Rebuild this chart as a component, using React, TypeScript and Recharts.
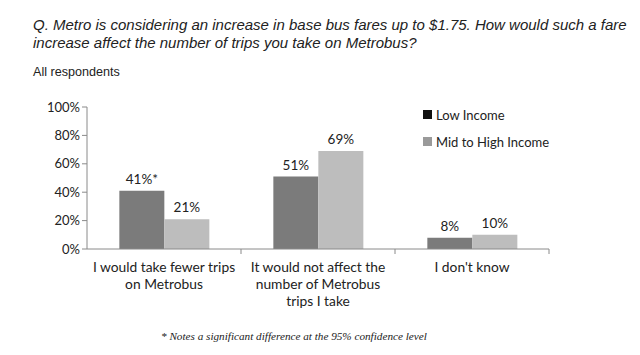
import React from "react";
import { BarChart, Bar, XAxis, YAxis, LabelList } from "recharts";

const categories = [
  "I would take fewer trips on Metrobus",
  "It would not affect the number of Metrobus trips I take",
  "I don't know",
];
const categoryLines = [
  ["I would take fewer trips", "on Metrobus"],
  ["It would not affect the", "number of Metrobus", "trips I take"],
  ["I don't know"],
];
const lowIncome = [41, 51, 8];
const midHighIncome = [21, 69, 10];
const lowNotes = ["*", "", ""];
const yTicks = [0, 20, 40, 60, 80, 100];
const seriesNames = ["Low Income", "Mid to High Income"];

const data = categories.map((c, i) => ({
  name: c,
  low: lowIncome[i],
  mid: midHighIncome[i],
  lowLabel: `${lowIncome[i]}%${lowNotes[i]}`,
  midLabel: `${midHighIncome[i]}%`,
}));

const FONT = "Lato, 'Open Sans', sans-serif";
const SANS = "'Liberation Sans', Arial, sans-serif";
const LOW = "#7b7b7b";
const MID = "#bdbdbd";
const AXIS = "#8a8a8a";
const BAND = (640 - 27 - 60 - 91) / 3;

function CategoryTick(props: any) {
  const { x, y, index } = props;
  const lines = categoryLines[index] || [];
  return (
    <g>
      <line x1={x + BAND / 2} y1={y - 8} x2={x + BAND / 2} y2={y - 3} stroke={AXIS} />
      {lines.map((l, i) => (
        <text
          key={i}
          x={x}
          y={y + 15 + i * 17}
          textAnchor="middle"
          fontFamily={FONT}
          fontSize={13.8}
          fill="#222"
        >
          {l}
        </text>
      ))}
    </g>
  );
}

export default function App() {
  const legendColors = ["#111", "#9a9a9a"];
  return (
    <div style={{ position: "absolute", left: 0, top: 0, width: 640, height: 355, background: "#fff" }}>
      <div
        style={{
          position: "absolute",
          left: 33,
          top: 16,
          fontFamily: SANS,
          fontStyle: "italic",
          fontSize: 15,
          lineHeight: "18px",
          color: "#222",
          width: 600,
        }}
      >
        Q. Metro is considering an increase in base bus fares up to $1.75. How would such a fare
        <br />
        increase affect the number of trips you take on Metrobus?
      </div>
      <div
        style={{
          position: "absolute",
          left: 33,
          top: 65,
          fontFamily: SANS,
          fontSize: 12.6,
          color: "#222",
        }}
      >
        All respondents
      </div>
      <BarChart
        width={640}
        height={355}
        data={data}
        margin={{ top: 107, right: 91, bottom: 46, left: 27 }}
        barCategoryGap="21%"
        barGap={0}
      >
        <YAxis
          width={60}
          domain={[0, 100]}
          ticks={yTicks}
          tickFormatter={(v) => `${v}%`}
          stroke={AXIS}
          tickSize={5}
          tick={{ fontFamily: FONT, fontSize: 13, fill: "#222" }}
        />
        <XAxis
          dataKey="name"
          height={60}
          stroke={AXIS}
          tickLine={false}
          interval={0}
          tick={<CategoryTick />}
        />
        <Bar dataKey="low" name={seriesNames[0]} fill={LOW} isAnimationActive={false}>
          <LabelList
            dataKey="lowLabel"
            position="top"
            offset={7}
            style={{ fontFamily: FONT, fontSize: 13.5, fill: "#222" }}
          />
        </Bar>
        <Bar dataKey="mid" name={seriesNames[1]} fill={MID} isAnimationActive={false}>
          <LabelList
            dataKey="midLabel"
            position="top"
            offset={7}
            style={{ fontFamily: FONT, fontSize: 13.5, fill: "#222" }}
          />
        </Bar>
      </BarChart>
      <div
        style={{
          position: "absolute",
          left: 423,
          top: 101,
          fontFamily: FONT,
          fontSize: 13,
          color: "#222",
        }}
      >
        {seriesNames.map((n, i) => (
          <div key={n} style={{ display: "flex", alignItems: "center", height: 27 }}>
            <span
              style={{
                display: "inline-block",
                width: 9,
                height: 9,
                background: legendColors[i],
                marginRight: 4,
              }}
            />
            {n}
          </div>
        ))}
      </div>
      <div
        style={{
          position: "absolute",
          left: 161,
          top: 330,
          fontFamily: "'Liberation Serif', 'Times New Roman', serif",
          fontStyle: "italic",
          fontSize: 11.2,
          color: "#222",
          whiteSpace: "nowrap",
        }}
      >
        * Notes a significant difference at the 95% confidence level
      </div>
    </div>
  );
}
